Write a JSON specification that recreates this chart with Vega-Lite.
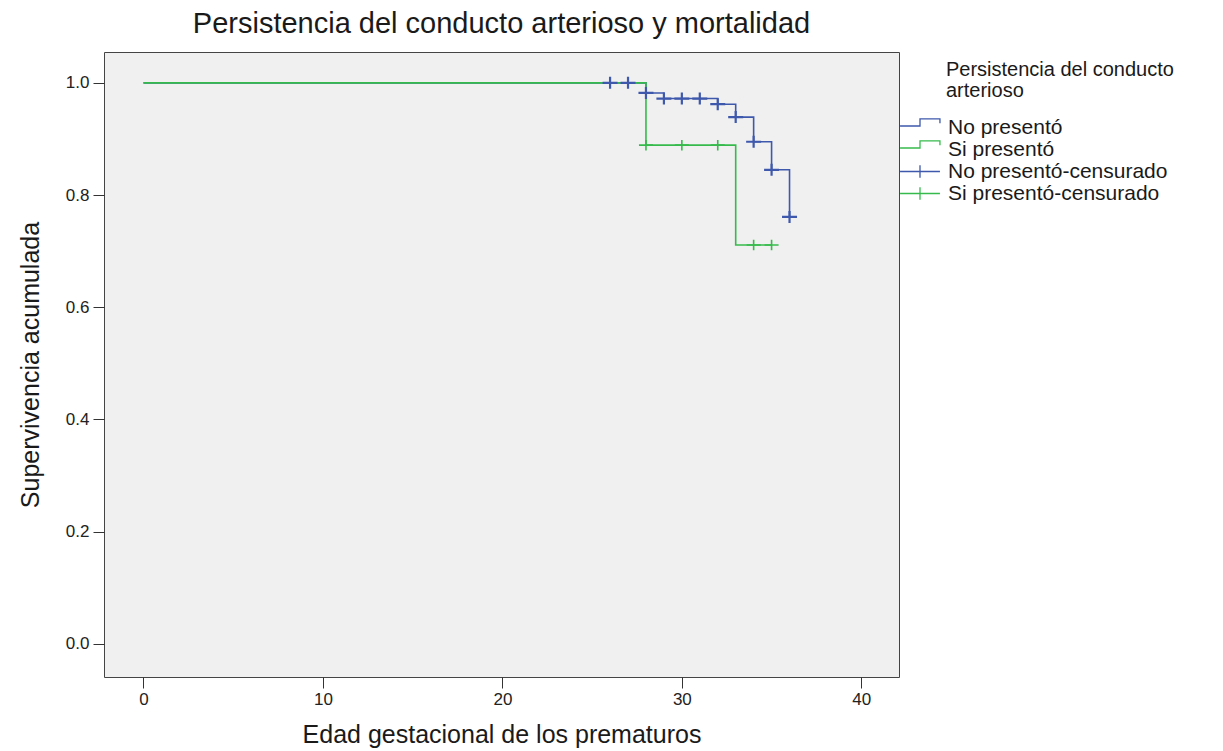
{
  "$schema": "https://vega.github.io/schema/vega-lite/v6.json",
  "width": 795,
  "height": 625,
  "autosize": {"type": "none"},
  "padding": {"left": 104, "top": 52, "right": 324, "bottom": 74},
  "background": "white",
  "title": {
    "text": "Persistencia del conducto arterioso y mortalidad",
    "font": "Liberation Sans",
    "fontSize": 29,
    "fontWeight": "normal",
    "color": "#1a1a1a",
    "anchor": "middle",
    "offset": 13
  },
  "config": {
    "view": {"fill": "#f0f0f0", "stroke": "#444444", "strokeWidth": 1},
    "axis": {
      "grid": false,
      "domain": false,
      "tickColor": "#333333",
      "tickSize": 11,
      "labelFont": "Liberation Sans",
      "labelFontSize": 17,
      "labelColor": "#222222",
      "titleFont": "Liberation Sans",
      "titleFontWeight": "normal",
      "titleColor": "#1a1a1a"
    }
  },
  "datasets": {
    "curvas": [
      {"t": 0, "s": 1.0, "grupo": "No presentó"},
      {"t": 28, "s": 0.982, "grupo": "No presentó"},
      {"t": 29, "s": 0.972, "grupo": "No presentó"},
      {"t": 32, "s": 0.962, "grupo": "No presentó"},
      {"t": 33, "s": 0.939, "grupo": "No presentó"},
      {"t": 34, "s": 0.895, "grupo": "No presentó"},
      {"t": 35, "s": 0.845, "grupo": "No presentó"},
      {"t": 36, "s": 0.761, "grupo": "No presentó"},
      {"t": 0, "s": 1.0, "grupo": "Si presentó"},
      {"t": 28, "s": 0.889, "grupo": "Si presentó"},
      {"t": 33, "s": 0.711, "grupo": "Si presentó"},
      {"t": 35, "s": 0.711, "grupo": "Si presentó"}
    ],
    "censura_no": [
      {"t": 26, "s": 1.0, "grupo": "No presentó-censurado"},
      {"t": 27, "s": 1.0, "grupo": "No presentó-censurado"},
      {"t": 28, "s": 0.982, "grupo": "No presentó-censurado"},
      {"t": 29, "s": 0.972, "grupo": "No presentó-censurado"},
      {"t": 30, "s": 0.972, "grupo": "No presentó-censurado"},
      {"t": 31, "s": 0.972, "grupo": "No presentó-censurado"},
      {"t": 32, "s": 0.962, "grupo": "No presentó-censurado"},
      {"t": 33, "s": 0.939, "grupo": "No presentó-censurado"},
      {"t": 34, "s": 0.895, "grupo": "No presentó-censurado"},
      {"t": 35, "s": 0.845, "grupo": "No presentó-censurado"},
      {"t": 36, "s": 0.761, "grupo": "No presentó-censurado"}
    ],
    "censura_si": [
      {"t": 28, "s": 0.889, "grupo": "Si presentó-censurado"},
      {"t": 30, "s": 0.889, "grupo": "Si presentó-censurado"},
      {"t": 32, "s": 0.889, "grupo": "Si presentó-censurado"},
      {"t": 34, "s": 0.711, "grupo": "Si presentó-censurado"},
      {"t": 35, "s": 0.711, "grupo": "Si presentó-censurado"}
    ]
  },
  "encoding": {
    "x": {
      "field": "t",
      "type": "quantitative",
      "scale": {"domain": [-2.2, 42.1], "nice": false, "zero": false},
      "axis": {
        "values": [0, 10, 20, 30, 40],
        "title": "Edad gestacional de los prematuros",
        "titleFontSize": 25,
        "titlePadding": 15,
        "labelPadding": 3
      }
    },
    "y": {
      "field": "s",
      "type": "quantitative",
      "scale": {"domain": [-0.059, 1.055], "nice": false, "zero": false},
      "axis": {
        "values": [0, 0.2, 0.4, 0.6, 0.8, 1.0],
        "format": ".1f",
        "title": "Supervivencia acumulada",
        "titleFontSize": 25,
        "titlePadding": 22,
        "labelPadding": 4
      }
    },
    "color": {
      "field": "grupo",
      "type": "nominal",
      "scale": {
        "domain": ["No presentó", "Si presentó", "No presentó-censurado", "Si presentó-censurado"],
        "range": ["#3E58AC", "#36BA4C", "#3E58AC", "#36BA4C"]
      },
      "legend": {
        "orient": "none",
        "legendX": 805.5,
        "legendY": 8,
        "padding": 0,
        "title": ["Persistencia del conducto", "arterioso"],
        "titleFont": "Liberation Sans",
        "titleFontSize": 20,
        "titleFontWeight": "normal",
        "titleColor": "#1a1a1a",
        "titleLineHeight": 21,
        "titlePadding": 16,
        "titleLimit": 400,
        "labelFont": "Liberation Sans",
        "labelFontSize": 21,
        "labelColor": "#1a1a1a",
        "labelLimit": 400,
        "labelOffset": 17.5,
        "symbolSize": 361,
        "symbolStrokeWidth": 1.3,
        "rowPadding": 0,
        "encode": {
          "title": {"update": {"dx": {"value": 36.5}}},
          "symbols": {
            "update": {
              "shape": {"signal": "indexof(datum.value, 'censurado') >= 0 ? 'M-2.1,0H2.1M0,-0.65V0.65' : 'M-2.1,-0.16H0V-0.9H2.1V-0.45'"},
              "fill": {"value": "transparent"},
              "stroke": {"scale": "color", "field": "value"},
              "strokeWidth": {"value": 1.3},
              "opacity": {"value": 1}
            }
          }
        }
      }
    }
  },
  "layer": [
    {
      "data": {"name": "curvas"},
      "mark": {"type": "line", "interpolate": "step-after", "strokeWidth": 1.6}
    },
    {
      "data": {"name": "censura_no"},
      "mark": {"type": "point", "shape": "M-1,0H1M0,-0.8V0.8", "size": 225, "filled": false, "strokeWidth": 2.2, "opacity": 1}
    },
    {
      "data": {"name": "censura_si"},
      "mark": {"type": "point", "shape": "M-1,0H1M0,-0.75V0.75", "size": 196, "filled": false, "strokeWidth": 1.6, "opacity": 1}
    }
  ]
}
